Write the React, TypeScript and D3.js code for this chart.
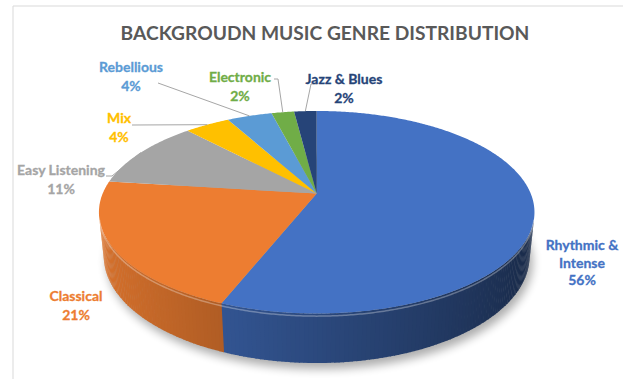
import React from 'react';
import * as d3 from 'd3';

// ---- data ----
const categories = ['Rhythmic & Intense', 'Classical', 'Easy Listening', 'Mix', 'Rebellious', 'Electronic', 'Jazz & Blues'];
const values = [56, 21, 11, 4, 4, 2, 2];
const colors = ['#4472C4', '#ED7D31', '#A5A5A5', '#FFC000', '#5B9BD5', '#70AD47', '#264478'];
const labelLines = [['Rhythmic &', 'Intense'], ['Classical'], ['Easy Listening'], ['Mix'], ['Rebellious'], ['Electronic'], ['Jazz & Blues']];
const title = 'BACKGROUDN MUSIC GENRE DISTRIBUTION';

// ---- layout (label placement, as in the original manual layout) ----
const labelPos = [
  { x: 582, y: 245 }, { x: 76, y: 296 }, { x: 61, y: 170 }, { x: 119, y: 118 },
  { x: 131, y: 67 }, { x: 240, y: 77 }, { x: 344, y: 79 },
];
const leaderStart: (number[][] | null)[] = [
  null, null, [[106, 176], [112, 176]], [[132, 125]], [[158, 83]], [[274, 79], [278, 79]], [[317, 84], [311, 84]],
];

const W = 623, HGT = 379;
const cx = 316.7, cy = 193.5, A = 214;
const sinA = 0.457, cosA = Math.sqrt(1 - sinA * sinA);
const kD = 0.208; // R / camera distance
const TH = 0.2316; // thickness / R

function proj(x: number, y: number, z: number): [number, number] {
  const v = y * cosA - z * sinA;
  const w = y * sinA + z * cosA;
  const s = A / (1 - w * kD);
  return [cx + x * s, cy - v * s];
}
const rim = (t: number, y: number) => proj(Math.sin(t), y, -Math.cos(t));

function sample(a0: number, a1: number, step = Math.PI / 360) {
  const n = Math.max(1, Math.ceil((a1 - a0) / step));
  const out: number[] = [];
  for (let i = 0; i <= n; i++) out.push(a0 + ((a1 - a0) * i) / n);
  return out;
}

export default function App() {
  const arcs = d3.pie<number>().sort(null).startAngle(0).endAngle(2 * Math.PI)(values);
  const line = d3.line();
  const thr = Math.acos(-kD / cosA); // visible side range (thr, 2pi - thr)
  const visStart = thr, visEnd = 2 * Math.PI - thr;

  const sides: { d: string; fill: string }[] = [];
  arcs.forEach((a, i) => {
    const s0 = Math.max(a.startAngle, visStart), s1 = Math.min(a.endAngle, visEnd);
    if (s1 <= s0) return;
    const ts = sample(s0, s1, Math.PI / 180);
    for (let j = 0; j < ts.length - 1; j++) {
      const t = ts[j], t2 = ts[j + 1], tm = (t + t2) / 2;
      const f = 0.64 - 0.28 * Math.sin(tm);
      const c = d3.rgb(colors[i]);
      const col = d3.rgb(c.r * f, c.g * f, c.b * f).formatHex();
      const pts = [rim(t, 0), rim(t2 + 0.004, 0), rim(t2 + 0.004, -TH), rim(t, -TH)];
      sides.push({ d: line(pts as [number, number][]) + 'Z', fill: col });
    }
  });

  const tops = arcs.map((a, i) => {
    const pts: [number, number][] = [proj(0, 0, 0), ...sample(a.startAngle, a.endAngle).map((t) => rim(t, 0))];
    return { d: line(pts) + 'Z', fill: colors[i] };
  });

  const shadowPts = sample(0, 2 * Math.PI).map((t) => rim(t, -TH)) as [number, number][];
  const topEdgePts = sample(visStart, visEnd).map((t) => rim(t, -0.012)) as [number, number][];

  const fontFamily = 'Lato, "Open Sans", sans-serif';

  return (
    <svg width={W} height={HGT} style={{ position: 'absolute', left: 0, top: 0, background: '#fff' }}>
      <defs>
        <filter id="blur" x="-20%" y="-20%" width="140%" height="140%">
          <feGaussianBlur stdDeviation="5" />
        </filter>
      </defs>
      <rect width={W} height={HGT} fill="#fff" />
      <line x1={13} y1={6} x2={W} y2={6} stroke="#D9D9D9" />
      <line x1={13} y1={6} x2={13} y2={HGT} stroke="#D9D9D9" />

      <text x={325} y={40} textAnchor="middle" fontFamily={fontFamily} fontWeight={700} fontSize={19.2} fill="#595959">
        {title}
      </text>

      <path d={line(shadowPts) + 'Z'} transform="translate(3,6)" fill="#000" opacity={0.32} filter="url(#blur)" />

      {sides.map((s, i) => (
        <path key={'s' + i} d={s.d} fill={s.fill} />
      ))}
      {tops.map((s, i) => (
        <path key={'t' + i} d={s.d} fill={s.fill} />
      ))}
      <path d={line(topEdgePts) ?? ''} fill="none" stroke="#fff" strokeOpacity={0.3} strokeWidth={1.5} />

      {arcs.map((a, i) => {
        const st = leaderStart[i];
        if (!st) return null;
        const mid = (a.startAngle + a.endAngle) / 2;
        const pts = [...st, rim(mid, 0)] as [number, number][];
        return <path key={'l' + i} d={line(pts) ?? ''} fill="none" stroke="#A6A6A6" strokeWidth={1} />;
      })}

      {categories.map((c, i) => {
        const lines = [...labelLines[i], `${values[i]}%`];
        const lh = lines.length > 2 ? 17.5 : 19;
        return (
          <text key={'x' + i} x={labelPos[i].x} y={labelPos[i].y + 5} textAnchor="middle"
            fontFamily={fontFamily} fontWeight={700} fontSize={14} fill={colors[i]}
            stroke={colors[i]} strokeWidth={0.3}>
            {lines.map((t, j) => (
              <tspan key={j} x={labelPos[i].x} dy={j === 0 ? 0 : lh}>{t}</tspan>
            ))}
          </text>
        );
      })}
    </svg>
  );
}
